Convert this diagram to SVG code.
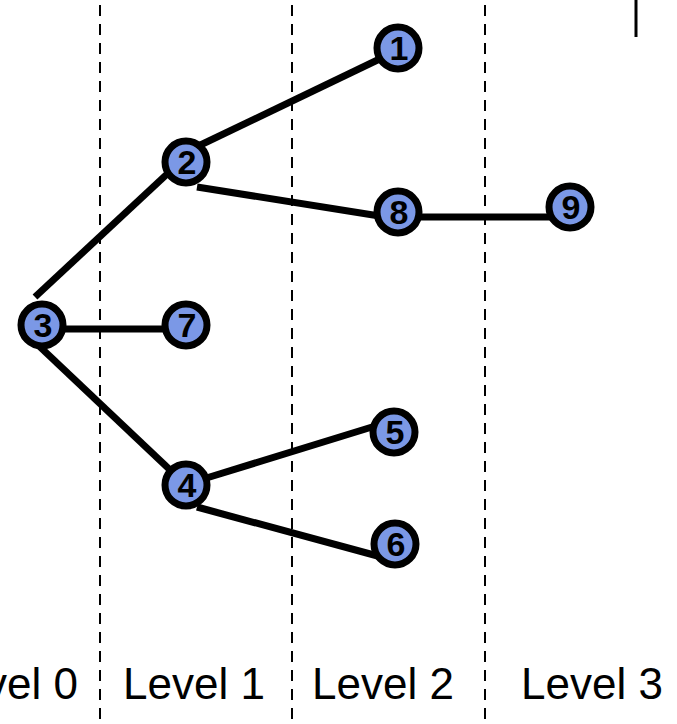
<svg xmlns="http://www.w3.org/2000/svg" width="677" height="724" viewBox="0 0 677 724">
<style>
.div{stroke:#000;stroke-width:2;stroke-dasharray:11 8;fill:none}
.edge{stroke:#000;stroke-width:7;fill:none}
.node circle{fill:#7B98E6;stroke:#000;stroke-width:7}
.node text{font-family:"Liberation Sans",Arial,sans-serif;font-weight:bold;font-size:34px;text-anchor:middle;fill:#000}
.lbl{font-family:"Liberation Sans",Arial,sans-serif;font-size:44px;fill:#000}
</style>
<rect width="677" height="724" fill="#fff"/>
<g id="dividers">
<line class="div" x1="100" y1="5" x2="100" y2="724"/>
<line class="div" x1="292" y1="5" x2="292" y2="724"/>
<line class="div" x1="485" y1="5" x2="485" y2="724"/>
<line x1="636" y1="0" x2="636" y2="37" stroke="#000" stroke-width="3"/>
</g>
<g id="connectors">
<line class="edge" x1="35" y1="297" x2="180" y2="162"/>
<line class="edge" x1="190" y1="150" x2="390" y2="54"/>
<line class="edge" x1="197" y1="187" x2="392" y2="218"/>
<line class="edge" x1="398" y1="217" x2="568" y2="217"/>
<line class="edge" x1="45" y1="329" x2="186" y2="329"/>
<line class="edge" x1="38" y1="345" x2="186" y2="485"/>
<line class="edge" x1="200" y1="480" x2="385" y2="423"/>
<line class="edge" x1="197" y1="507" x2="385" y2="558"/>
</g>
<g id="node1" class="node"><circle cx="398" cy="48" r="21"/><text x="399" y="60">1</text></g>
<g id="node2" class="node"><circle cx="186" cy="162" r="21"/><text x="187" y="174">2</text></g>
<g id="node8" class="node"><circle cx="398" cy="212" r="21"/><text x="399" y="224">8</text></g>
<g id="node9" class="node"><circle cx="570" cy="207" r="21"/><text x="571" y="219">9</text></g>
<g id="node3" class="node"><circle cx="42" cy="325" r="21"/><text x="43" y="337">3</text></g>
<g id="node7" class="node"><circle cx="186" cy="325" r="21"/><text x="187" y="337">7</text></g>
<g id="node5" class="node"><circle cx="394" cy="432" r="21"/><text x="395" y="444">5</text></g>
<g id="node4" class="node"><circle cx="186" cy="485" r="21"/><text x="187" y="497">4</text></g>
<g id="node6" class="node"><circle cx="395" cy="544" r="21"/><text x="396" y="556">6</text></g>
<g id="labels">
<text class="lbl" x="78" y="699" text-anchor="end">Level 0</text>
<text class="lbl" x="123" y="699">Level 1</text>
<text class="lbl" x="312" y="699">Level 2</text>
<text class="lbl" x="521" y="699">Level 3</text>
</g>
</svg>
